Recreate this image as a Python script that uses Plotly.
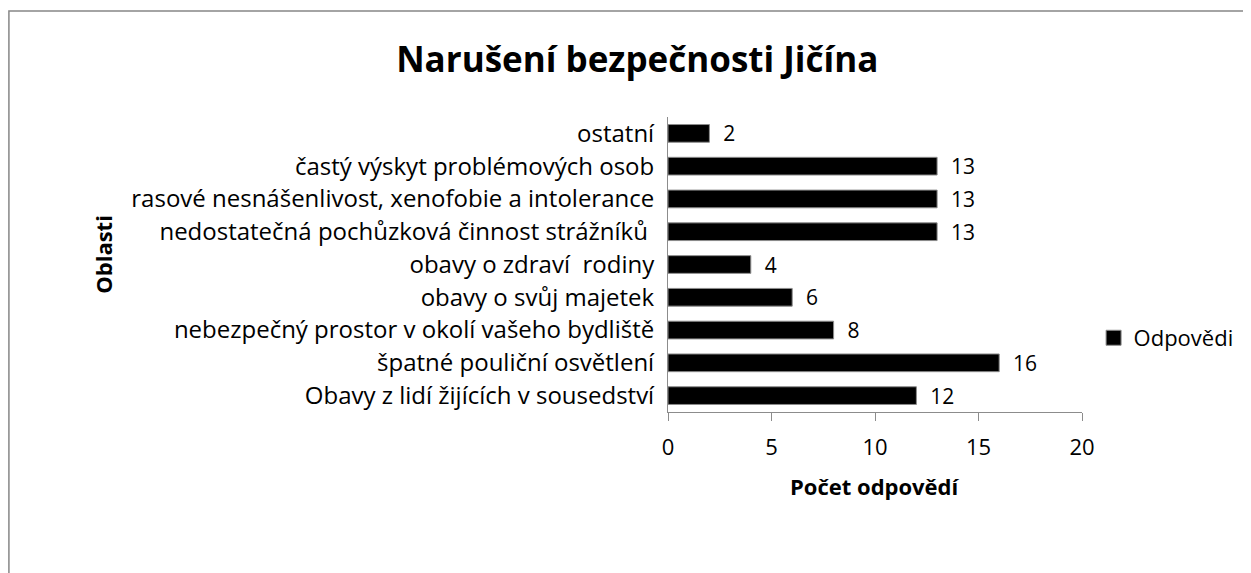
import plotly.graph_objects as go

# categories listed bottom -> top (plotly draws first category at the bottom)
oblasti = [
    'Obavy z lidí žijících v sousedství',
    'špatné pouliční osvětlení',
    'nebezpečný prostor v okolí vašeho bydliště',
    'obavy o svůj majetek',
    'obavy o zdraví  rodiny',
    'nedostatečná pochůzková činnost strážníků ',
    'rasové nesnášenlivost, xenofobie a intolerance',
    'častý výskyt problémových osob',
    'ostatní',
]
odpovedi = [12, 16, 8, 6, 4, 13, 13, 13, 2]
x_ticks = [0, 5, 10, 15, 20]

FONT = 'Open Sans'

fig = go.Figure()

fig.add_trace(go.Bar(
    y=oblasti,
    x=odpovedi,
    orientation='h',
    name='Odpovědi',
    showlegend=False,
    marker=dict(color='black', line=dict(color='#8c8c8c', width=1)),
    text=['  ' + str(v) for v in odpovedi],
    textposition='outside',
    constraintext='none',
    textfont=dict(family=FONT, size=21, color='black'),
    cliponaxis=False,
))

# legend entry with a bigger square, like the original
fig.add_trace(go.Scatter(
    x=[None], y=[None], mode='markers', name='Odpovědi',
    marker=dict(symbol='square', size=15, color='black',
                line=dict(color='#8c8c8c', width=1)),
))

# page body has an 8px margin, so the figure is placed 8px in from the corner
fig.update_layout(
    width=1251,
    height=573,
    margin=dict(l=660, r=177, t=109, b=169, autoexpand=False),
    paper_bgcolor='white',
    plot_bgcolor='white',
    bargap=0.46,
    font=dict(family=FONT, size=21, color='black'),
    title=dict(
        text='<b>Narušení bezpečnosti Jičína</b>',
        font=dict(family=FONT, size=35, color='black'),
        x=0.503, xref='container', xanchor='center',
        y=0.909, yref='container', yanchor='middle',
    ),
    showlegend=True,
    legend=dict(
        x=1.028, xanchor='left', y=0.251, yanchor='middle',
        font=dict(family=FONT, size=22, color='black'),
        itemwidth=30,
    ),
    xaxis=dict(
        range=[0, 20],
        tickvals=x_ticks,
        showgrid=False,
        zeroline=False,
        showline=True,
        linecolor='#8c8c8c',
        linewidth=1,
        ticks='outside',
        ticklen=8,
        tickcolor='#8c8c8c',
        ticklabelstandoff=8,
        tickfont=dict(family=FONT, size=22, color='black'),
    ),
    yaxis=dict(
        showgrid=False,
        showline=True,
        linecolor='#8c8c8c',
        linewidth=1,
        ticks='',
        ticklabelstandoff=8,
        tickfont=dict(family=FONT, size=24, color='black'),
    ),
)

# axis titles
fig.add_annotation(
    text='<b>Počet odpovědí</b>', xref='paper', yref='paper',
    x=0.5, y=-0.25, showarrow=False, xanchor='center', yanchor='middle',
    font=dict(family=FONT, size=22, color='black'),
)
fig.add_annotation(
    text='<b>Oblasti</b>', xref='paper', yref='paper',
    x=-1.365, y=0.536, showarrow=False, textangle=-90,
    xanchor='center', yanchor='middle',
    font=dict(family=FONT, size=22, color='black'),
)

# chart area border (extends past the right and bottom edge like the original)
fig.add_shape(
    type='rect', xref='paper', yref='paper',
    x0=-1.592, x1=1.45, y0=-0.6, y1=1.359,
    line=dict(color='#878787', width=1.5),
    layer='below',
)

fig.write_html('out.html')
